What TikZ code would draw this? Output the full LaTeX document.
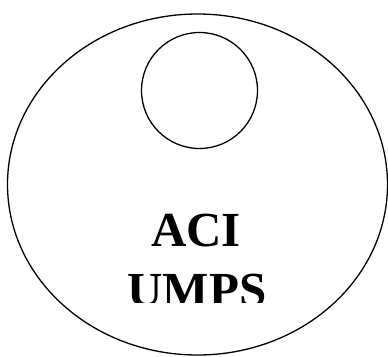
\documentclass[tikz,border=0pt]{standalone}
\usepackage{fontspec}
\setmainfont{Liberation Serif}
\usetikzlibrary{shapes.geometric}
\begin{document}
\begin{tikzpicture}[x=1pt,y=1pt,
  shapeline/.style={draw=black, line width=1.3pt, inner sep=0pt},
  labeltext/.style={font=\fontsize{49}{60}\selectfont\bfseries, align=center, inner sep=0pt}]
\useasboundingbox (0,0) rectangle (388,-356);
\node[shapeline, ellipse, minimum width=380pt, minimum height=341pt] (outer) at (197.5,-184.5) {};
\node[shapeline, circle, minimum size=116pt] (inner) at (199.5,-90.5) {};
\begin{scope}
  \clip (0,0) rectangle (388,-302);
  \node[labeltext, anchor=base] (aci) at (196,-246) {ACI};
  \node[labeltext, anchor=base] (umps) at (197,-306) {UMPS};
\end{scope}
\end{tikzpicture}
\end{document}
